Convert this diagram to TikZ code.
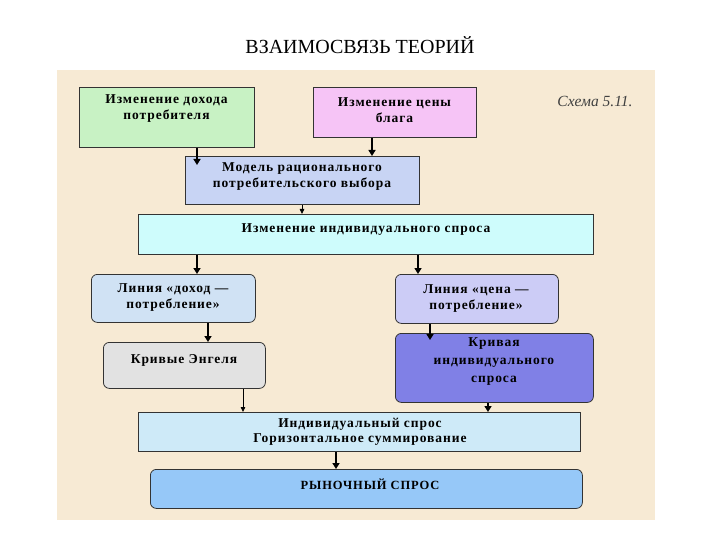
\documentclass[tikz,border=0pt]{standalone}
\usepackage{fontspec}
\setmainfont{Liberation Serif}
\newfontfamily\boxfont[LetterSpace=7]{Liberation Serif}
\usetikzlibrary{arrows.meta}
\definecolor{panelc}{RGB}{247,234,212}
\definecolor{greenc}{RGB}{200,242,196}
\definecolor{pinkc}{RGB}{246,196,246}
\definecolor{modelc}{RGB}{200,212,244}
\definecolor{cyanc}{RGB}{206,252,252}
\definecolor{lineac}{RGB}{208,226,244}
\definecolor{linebc}{RGB}{204,204,246}
\definecolor{engelc}{RGB}{226,226,226}
\definecolor{curvec}{RGB}{128,128,230}
\definecolor{indc}{RGB}{206,234,248}
\definecolor{marketc}{RGB}{150,200,248}
\begin{document}
\begin{tikzpicture}[x=1pt,y=-1pt,
  box/.style={draw=black!80, line width=0.8pt, inner sep=0pt, anchor=north west},
  rbox/.style={box, rounded corners=6pt},
  txt/.style={align=center, inner sep=0pt, font=\boxfont\bfseries\fontsize{13.5}{16}\selectfont},
  arr/.style={-{Triangle[length=6pt,width=7pt]}, line width=2.4pt},
  thinarr/.style={-{Triangle[length=5pt,width=4.5pt]}, line width=0.8pt}]
\useasboundingbox (0,0) rectangle (720,540);
\fill[white] (0,0) rectangle (720,540);
\fill[panelc] (57,70) rectangle (655,520);
\node[font=\fontsize{20}{24}\selectfont] (title) at (360,45) {ВЗАИМОСВЯЗЬ ТЕОРИЙ};
\node[font=\itshape\fontsize{15.5}{18}\selectfont, text=black!75] (scheme) at (595,101) {Схема 5.11.};
% boxes
\node[box, fill=greenc, minimum width=175, minimum height=60] (g) at (79,87) {};
\node[box, fill=pinkc, minimum width=163, minimum height=50] (p) at (313,87) {};
\node[box, fill=modelc, minimum width=234, minimum height=48] (m) at (185,156) {};
\node[box, fill=cyanc, minimum width=455, minimum height=40] (c) at (138,214) {};
\node[rbox, fill=lineac, minimum width=164, minimum height=48] (la) at (91,274) {};
\node[rbox, fill=linebc, minimum width=163, minimum height=49] (lb) at (395,274) {};
\node[rbox, fill=engelc, minimum width=162, minimum height=46] (e) at (103,342) {};
\node[rbox, fill=curvec, minimum width=198, minimum height=69] (k) at (395,333) {};
\node[box, fill=indc, minimum width=442, minimum height=39] (i) at (138,412) {};
\node[rbox, fill=marketc, minimum width=432, minimum height=39] (r) at (150,469) {};
% texts
\node[txt] (gt) at (166.5,109) {Изменение дохода\\потребителя};
\node[txt] (pt) at (394.5,110) {Изменение цены\\блага};
\node[txt] (mt) at (302,177) {Модель рационального\\потребительского выбора};
\node[txt] (ct) at (366,230) {Изменение индивидуального спроса};
\node[txt] (lat) at (173,298) {Линия «доход —\\потребление»};
\node[txt] (lbt) at (476,298.5) {Линия «цена —\\потребление»};
\node[txt] (et) at (184,360) {Кривые Энгеля};
\node[txt, font=\boxfont\bfseries\fontsize{13.5}{18}\selectfont] (kt) at (494,362) {Кривая\\индивидуального\\спроса};
\node[txt, font=\boxfont\bfseries\fontsize{13.5}{15}\selectfont] (it) at (360,432) {Индивидуальный спрос\\Горизонтальное суммирование};
\node[txt, font=\boxfont\bfseries\fontsize{12.5}{14}\selectfont] (rt) at (370,484) {РЫНОЧНЫЙ СПРОС};
% arrow columns
\coordinate (x1) at (197,0);
\coordinate (x2) at (372,0);
\coordinate (x3) at (302,0);
\coordinate (x4) at (197,0);
\coordinate (x5) at (418,0);
\coordinate (x6) at (208,0);
\coordinate (x7) at (430,0);
\coordinate (x8) at (243,0);
\coordinate (x9) at (488,0);
\coordinate (x10) at (336,0);
% connectors
\draw[arr, shorten >=-9pt] (g.south -| x1) -- (m.north -| x1);
\draw[arr] (p.south -| x2) -- (m.north -| x2);
\draw[thinarr] (m.south -| x3) -- (c.north -| x3);
\draw[arr] (c.south -| x4) -- (la.north -| x4);
\draw[arr] (c.south -| x5) -- (lb.north -| x5);
\draw[arr, line width=1.8pt] (la.south -| x6) -- (e.north -| x6);
\draw[arr, shorten >=-7pt] (lb.south -| x7) -- (k.north -| x7);
\draw[thinarr] (e.south -| x8) -- (i.north -| x8);
\draw[arr] (k.south -| x9) -- (i.north -| x9);
\draw[arr] (i.south -| x10) -- (r.north -| x10);
\end{tikzpicture}
\end{document}
